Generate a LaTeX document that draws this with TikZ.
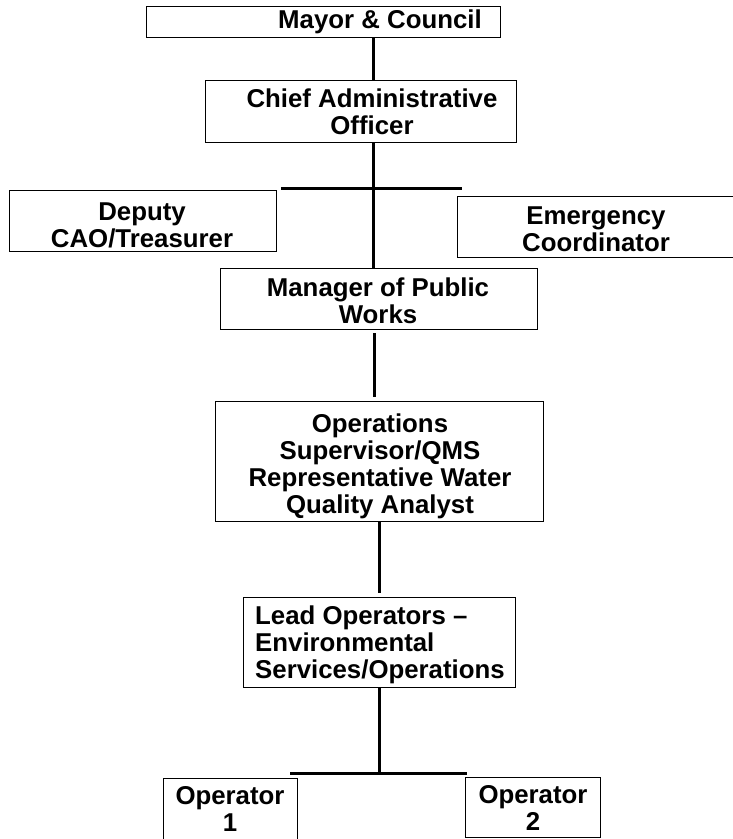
\documentclass[tikz,border=0pt]{standalone}
\usepackage{fontspec}
\setmainfont{Liberation Sans}
\begin{document}
\begin{tikzpicture}[x=1pt,y=-1pt,
  box/.style={draw=black,line width=1.1pt,rectangle,inner sep=0pt,anchor=north west},
  lbl/.style={font=\bfseries\fontsize{25.8}{27}\selectfont,align=center,inner sep=0pt},
  conn/.style={line width=3pt,black}]
\useasboundingbox (0,0) rectangle (732,839);
% boxes
\node[box,minimum width=354pt,minimum height=31pt] (mayor) at (146,6) {};
\node[box,minimum width=311pt,minimum height=62pt] (cao) at (205,80) {};
\node[box,minimum width=267pt,minimum height=61pt] (dep) at (9,190) {};
\node[box,minimum width=276pt,minimum height=61pt] (emg) at (457,196) {};
\node[box,minimum width=317pt,minimum height=61pt] (mgr) at (220,268) {};
\node[box,minimum width=328pt,minimum height=120pt] (ops) at (215,401) {};
\node[box,minimum width=272pt,minimum height=90pt] (lead) at (243,597) {};
\node[box,minimum width=134pt,minimum height=62pt] (op1) at (163,778) {};
\node[box,minimum width=135pt,minimum height=60pt] (op2) at (465,777) {};
% texts
\node[lbl] (mayort) at (380,22) {Mayor \& Council};
\node[lbl] (caot) at (372,112) {Chief Administrative\\Officer};
\node[lbl] (dept) at (142,225) {Deputy\\CAO/Treasurer};
\node[lbl] (emgt) at (596,229) {Emergency\\Coordinator};
\node[lbl] (mgrt) at (378,301) {Manager of Public\\Works};
\node[lbl] (opst) at (380,466) {Operations\\Supervisor/QMS\\Representative Water\\Quality Analyst};
\node[lbl,align=left,anchor=west] (leadt) at (255,645) {Lead Operators --\\Environmental\\Services/Operations};
\node[lbl] (op1t) at (230,809) {Operator\\1};
\node[lbl] (op2t) at (533,808) {Operator\\2};
% junction coordinates
\coordinate (ja) at (373,188);
\coordinate (jaL) at (281,188);
\coordinate (jaR) at (462,188);
\coordinate (jb) at (374,360);
\coordinate (jc) at (379,560);
\coordinate (jd) at (379,773);
\coordinate (jdL) at (290,773);
\coordinate (jdR) at (467,773);
% connectors
\draw[conn] (mayor.south -| ja) -- (cao.north -| ja);
\draw[conn] (cao.south -| ja) -- (mgr.north -| ja);
\draw[conn] (jaL) -- (jaR);
\draw[conn,shorten <=3pt,shorten >=4pt] (mgr.south -| jb) -- (ops.north -| jb);
\draw[conn,shorten >=4pt] (ops.south -| jc) -- (lead.north -| jc);
\draw[conn] (lead.south -| jd) -- (jd);
\draw[conn] (jdL) -- (jdR);
\end{tikzpicture}
\end{document}
